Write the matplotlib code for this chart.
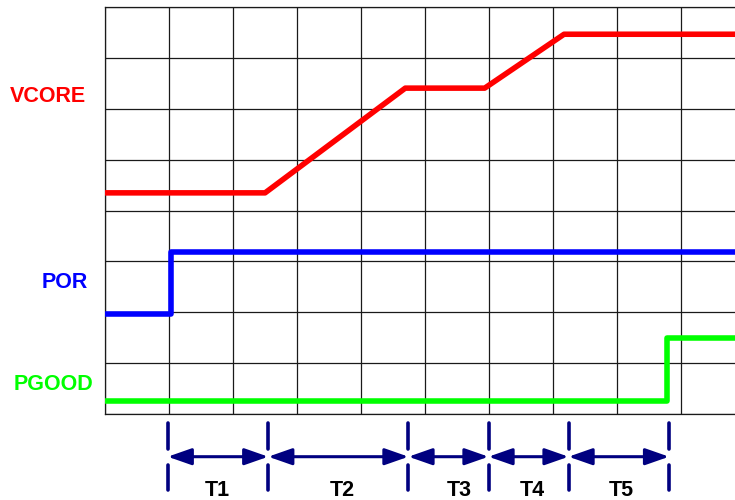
import matplotlib.pyplot as plt

# signal traces, in grid units (x: 0..9.84 columns, y: 0..8 rows)
vcore_x = [0, 2.5, 4.69, 5.93, 7.17, 9.84]
vcore_y = [4.35, 4.35, 6.41, 6.41, 7.47, 7.47]
por_x = [0, 1.03, 1.03, 9.84]
por_y = [1.96, 1.96, 3.19, 3.19]
pgood_x = [0, 8.78, 8.78, 9.84]
pgood_y = [0.26, 0.26, 1.49, 1.49]

# timing markers below the grid
marker_x = [0.98, 2.55, 4.74, 5.99, 7.24, 8.81]
period_labels = ['T1', 'T2', 'T3', 'T4', 'T5']
period_label_x = [1.76, 3.70, 5.53, 6.67, 8.06]

signal_names = ['VCORE', 'POR', 'PGOOD']
signal_colors = ['#ff0000', '#0000ff', '#00ff00']

plt.rcParams['font.family'] = ['Liberation Sans', 'DejaVu Sans']

fig = plt.figure(figsize=(7.35, 5), dpi=100)
ax = fig.add_axes([105 / 735, 86 / 500, 630 / 735, 406.7 / 500])
ax.set_xlim(0, 9.84)
ax.set_ylim(0, 8)
ax.set_xticks(range(10))
ax.set_yticks(range(9))
ax.tick_params(length=0, labelbottom=False, labelleft=False)
ax.grid(True, color='#1a1a1a', linewidth=0.9)
ax.set_axisbelow(True)
for side in ['left', 'bottom', 'top']:
    ax.spines[side].set_color('#1a1a1a')
    ax.spines[side].set_linewidth(0.9)
ax.spines['right'].set_visible(False)

# traces
for xs, ys, c in [(vcore_x, vcore_y, signal_colors[0]),
                  (por_x, por_y, signal_colors[1]),
                  (pgood_x, pgood_y, signal_colors[2])]:
    ax.plot(xs, ys, color=c, linewidth=4, solid_joinstyle='round',
            solid_capstyle='round', zorder=3)

# signal names on the left
label_pos = [(10, 96), (42, 282), (14, 384)]
for name, c, (px, py) in zip(signal_names, signal_colors, label_pos):
    fig.text(px / 735, 1 - py / 500, name, color=c, fontsize=15.5,
             fontweight='bold', ha='left', va='center')

# timing markers: two dash segments per marker
navy = '#000080'
for mx in marker_x:
    ax.plot([mx, mx], [-0.18, -0.69], color=navy, linewidth=2.6,
            solid_capstyle='round', clip_on=False)
    ax.plot([mx, mx], [-1.0, -1.49], color=navy, linewidth=2.6,
            solid_capstyle='round', clip_on=False)

# double-headed arrows and period labels
for i, lab in enumerate(period_labels):
    x0, x1 = marker_x[i], marker_x[i + 1]
    ax.annotate('', xy=(x1, -0.84), xytext=(x0, -0.84),
                arrowprops=dict(arrowstyle='<|-|>,head_length=0.8,head_width=0.28',
                                mutation_scale=18, color=navy, linewidth=2.2,
                                shrinkA=0, shrinkB=0),
                annotation_clip=False)
    ax.text(period_label_x[i], -1.61, lab, fontsize=15.5, fontweight='bold',
            ha='center', va='baseline', color='black', clip_on=False)

fig.savefig('out.png', dpi=100)
